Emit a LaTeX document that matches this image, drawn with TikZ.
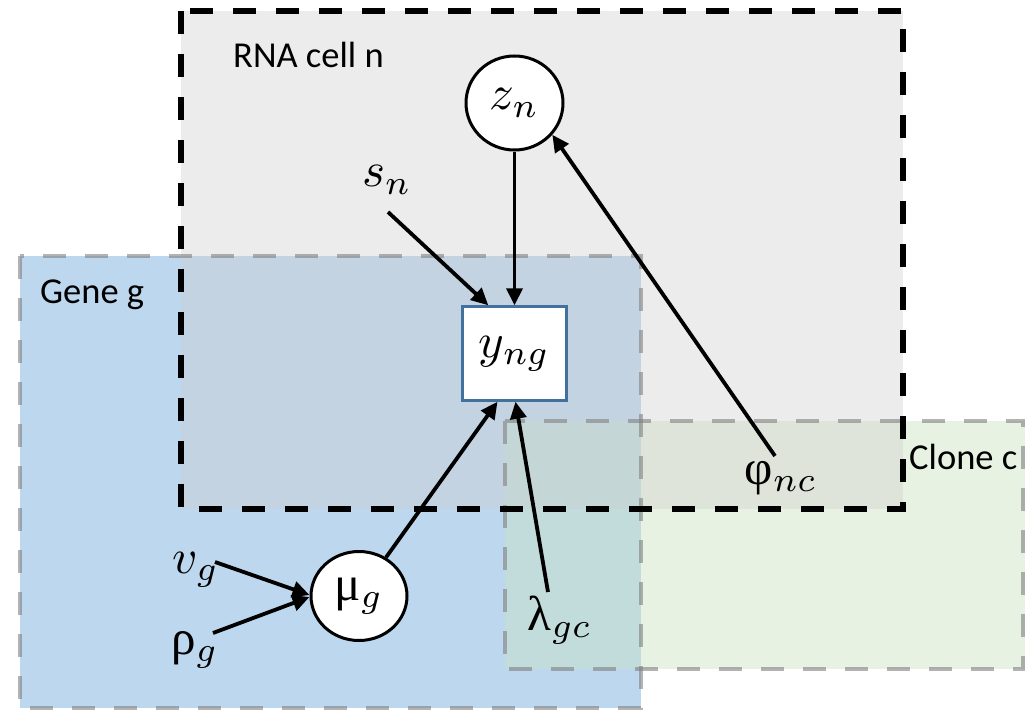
\documentclass[tikz,border=0pt]{standalone}
\usepackage{graphicx}
\usepackage{fontspec}
\setsansfont{Carlito}
\newfontfamily\gk{Liberation Serif}
\usetikzlibrary{arrows.meta,calc,shapes.geometric}
\newcommand{\mathlbl}[1]{\scalebox{4.9}{#1}}
\definecolor{rnaC}{HTML}{ECECEC}
\definecolor{geneC}{HTML}{BDD7EE}
\definecolor{geneRnaC}{HTML}{C3D3E2}
\definecolor{cloneC}{HTML}{E7F2E3}
\definecolor{cloneRnaC}{HTML}{DFE4DB}
\definecolor{geneCloneC}{HTML}{C1DCDA}
\definecolor{allC}{HTML}{C5D6D6}
\definecolor{boxC}{HTML}{41719C}
\definecolor{bordC}{HTML}{808080}
\begin{document}
\begin{tikzpicture}[x=1pt,y=-1pt,
  lbl/.style={font=\sffamily\fontsize{36.5}{36.5}\selectfont, inner sep=0, anchor=base west},
  mth/.style={inner sep=0},
  circ/.style={ellipse, draw=black, fill=white, line width=3pt, inner sep=0},
  varbox/.style={rectangle, draw=boxC, fill=white, line width=2.4pt, minimum width=104pt, minimum height=94pt, inner sep=0},
  arr/.style={line width=3.8pt, -{Triangle[length=17pt,width=16pt]}},
  grayborder/.style={draw=bordC, draw opacity=0.6, line width=4.8pt, dash pattern=on 23pt off 19pt},
  rnaborder/.style={draw=black, line width=5.8pt, dash pattern=on 23pt off 20pt}
]
\useasboundingbox (0,0) rectangle (1025,712);
% region fills
\fill[rnaC] (181,11) rectangle (903,509);
\fill[geneC] (20,256) rectangle (641,708);
\fill[geneRnaC] (181,256) rectangle (641,509);
\fill[cloneC] (505,421) rectangle (1025,669);
\fill[cloneRnaC] (505,421) rectangle (903,509);
\fill[geneCloneC] (505,509) rectangle (641,669);
\fill[allC] (505,421) rectangle (641,509);
% borders
\draw[grayborder] (20,256) rectangle (641,708);
\draw[grayborder] (505,421) rectangle (1023,669);
\draw[rnaborder] (181,11) rectangle (903,509);
% plate labels
\node[lbl] (rnalbl) at (233,67) {RNA cell n};
\node[lbl] (genelbl) at (40,303) {Gene g};
\node[lbl] (clonelbl) at (909,469) {Clone c};
% nodes
\node[circ, minimum width=97pt, minimum height=94pt] (zn) at (514.5,103) {\mathlbl{$z_n$}};
\node[varbox] (yng) at (514.5,353.5) {\mathlbl{$y_{ng}$}};
\node[circ, minimum width=96pt, minimum height=89pt] (mug) at (359,596) {\mathlbl{{\gk μ}$_g$}};
\node[mth] (sn) at (387,180) {\mathlbl{$s_n$}};
\node[mth] (vg) at (196,570) {\mathlbl{$v_g$}};
\node[mth] (rg) at (195,650) {\mathlbl{{\gk ρ}$_g$}};
\node[mth] (phi) at (781,478) {\mathlbl{{\gk φ}$_{nc}$}};
\node[mth] (lam) at (560,620) {\mathlbl{{\gk λ}$_{gc}$}};
% connectors
\draw[arr] ([shift={(1,32)}]sn.center) -- ([xshift=27pt]yng.north west);
\draw[arr] (zn.south) -- (yng.north);
\draw[arr] ([shift={(-6,-22)}]phi.center) -- (zn.-40);
\draw[arr] (mug.55) -- ([xshift=-17pt]yng.south);
\draw[arr] ([shift={(-12,-28)}]lam.center) -- ([xshift=1pt]yng.south);
\draw[arr] ([shift={(19,-8)}]vg.center) -- ([yshift=1pt]mug.west);
\draw[arr] ([shift={(18,-17)}]rg.center) -- ([yshift=-1pt]mug.west);
\end{tikzpicture}
\end{document}
